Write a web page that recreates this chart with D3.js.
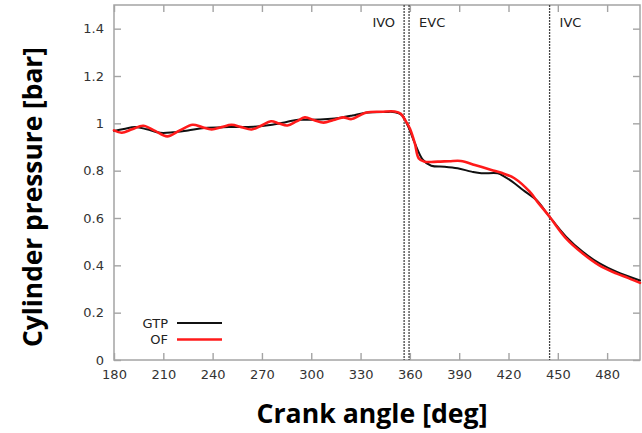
<!DOCTYPE html>
<html>
<head>
<meta charset="utf-8">
<script src="https://cdn.jsdelivr.net/npm/d3@7"></script>
<style>
  html, body { margin: 0; padding: 0; background: #fff; }
  svg { display: block; }
</style>
</head>
<body>
<svg id="chart" width="642" height="433"></svg>
<script>
// Crank angle [deg] and cylinder pressure [bar] for each model
const gtpAngle = [180, 186, 193, 200, 208, 216, 225, 235, 250, 265, 275, 285, 292, 300, 310, 318, 325, 333, 345, 351, 355, 359, 363, 368, 373, 381, 389, 397.5, 403.5, 413.5, 417.5, 423.8, 428.8, 437, 445, 455, 465, 475.4, 485.6, 500];
const gtpPressure = [0.968, 0.976, 0.984, 0.975, 0.960, 0.962, 0.970, 0.980, 0.984, 0.986, 0.993, 1.006, 1.015, 1.015, 1.018, 1.024, 1.033, 1.045, 1.048, 1.047, 1.035, 0.986, 0.916, 0.845, 0.821, 0.817, 0.810, 0.796, 0.789, 0.789, 0.775, 0.746, 0.718, 0.676, 0.605, 0.521, 0.458, 0.408, 0.373, 0.336];

const ofAngle = [180, 184.7, 191, 197.8, 205, 212.4, 220, 227.8, 233.5, 239.4, 245.5, 251.5, 257.5, 263.7, 269.5, 275.5, 280.5, 285.5, 291, 296.1, 301.5, 307.5, 313.5, 319.4, 324.5, 329, 333.6, 342.7, 350.8, 354.5, 357, 360, 363, 365.4, 369, 377, 384, 391, 399.5, 409.6, 415.7, 423.8, 432.9, 438, 445, 455, 465, 475, 485.5, 493, 500];
const ofPressure = [0.970, 0.960, 0.975, 0.990, 0.968, 0.945, 0.970, 0.994, 0.984, 0.974, 0.984, 0.994, 0.984, 0.974, 0.990, 1.009, 0.999, 0.991, 1.008, 1.025, 1.014, 1.003, 1.014, 1.025, 1.018, 1.032, 1.046, 1.049, 1.050, 1.040, 1.015, 0.978, 0.916, 0.852, 0.838, 0.838, 0.840, 0.841, 0.824, 0.803, 0.791, 0.767, 0.711, 0.665, 0.605, 0.514, 0.451, 0.401, 0.366, 0.346, 0.326];

const seriesNames = ["GTP", "OF"];
const seriesColors = ["#111111", "#ff1a1a"];

// Valve timing events
const eventNames = ["IVO", "EVC", "IVC"];
const eventAngles = [356.5, 359.5, 445];

// Axis ticks
const xTicks = [180, 210, 240, 270, 300, 330, 360, 390, 420, 450, 480];
const yTicks = [0, 0.2, 0.4, 0.6, 0.8, 1, 1.2, 1.4];
const yTickLabels = ["0", "0.2", "0.4", "0.6", "0.8", "1", "1.2", "1.4"];

const xTitle = "Crank angle [deg]";
const yTitle = "Cylinder pressure [bar]";

const svg = d3.select("#chart");
const frame = { left: 114, right: 640, top: 5, bottom: 360 };

const x = d3.scaleLinear().domain([180, 500]).range([frame.left, frame.right]);
const y = d3.scaleLinear().domain([0, 1.5]).range([frame.bottom, frame.top]);

const axisGray = "#a4a4a4";
const tickFont = "'DejaVu Sans', sans-serif";

// Axes with inward ticks on all four sides
const gx = svg.append("g")
  .attr("transform", `translate(0,${frame.bottom})`)
  .call(d3.axisBottom(x).tickValues(xTicks).tickFormat(d3.format("d"))
    .tickSizeInner(-7).tickSizeOuter(0).tickPadding(10));
const gxTop = svg.append("g")
  .attr("transform", `translate(0,${frame.top})`)
  .call(d3.axisTop(x).tickValues(xTicks).tickFormat("")
    .tickSizeInner(-7).tickSizeOuter(0));
const gy = svg.append("g")
  .attr("transform", `translate(${frame.left},0)`)
  .call(d3.axisLeft(y).tickValues(yTicks).tickFormat((d, i) => yTickLabels[i])
    .tickSizeInner(-7).tickSizeOuter(0).tickPadding(10));
const gyRight = svg.append("g")
  .attr("transform", `translate(${frame.right},0)`)
  .call(d3.axisRight(y).tickValues(yTicks).tickFormat("")
    .tickSizeInner(-7).tickSizeOuter(0));

[gx, gxTop, gy, gyRight].forEach(g => {
  g.select(".domain").remove();
  g.selectAll(".tick line").attr("stroke", axisGray).attr("stroke-width", 1.4);
  g.selectAll(".tick text")
    .attr("fill", "#333")
    .style("font-family", tickFont)
    .style("font-size", "13px");
});

// Plot frame
svg.append("rect")
  .attr("x", frame.left).attr("y", frame.top)
  .attr("width", frame.right - frame.left).attr("height", frame.bottom - frame.top)
  .attr("fill", "none").attr("stroke", axisGray).attr("stroke-width", 1.5);

// Valve event markers
const events = eventNames.map((name, i) => ({ name, angle: eventAngles[i] }));
svg.append("g").selectAll("line").data(events).join("line")
  .attr("x1", d => x(d.angle)).attr("x2", d => x(d.angle))
  .attr("y1", frame.top).attr("y2", frame.bottom)
  .attr("stroke", "#444").attr("stroke-width", 1.3)
  .attr("stroke-dasharray", "2,1");
svg.append("g").selectAll("text").data(events).join("text")
  .attr("x", d => x(d.angle) + (d.name === "IVO" ? -9 : 10))
  .attr("y", 27)
  .attr("text-anchor", d => d.name === "IVO" ? "end" : "start")
  .attr("fill", "#222")
  .style("font-family", tickFont)
  .style("font-size", "13px")
  .text(d => d.name);

// Pressure traces
const series = [
  { name: seriesNames[0], color: seriesColors[0], width: 2, pts: gtpAngle.map((a, i) => [a, gtpPressure[i]]) },
  { name: seriesNames[1], color: seriesColors[1], width: 2.6, pts: ofAngle.map((a, i) => [a, ofPressure[i]]) }
];
const line = d3.line()
  .x(d => x(d[0])).y(d => y(d[1]))
  .curve(d3.curveCatmullRom.alpha(0.5));

const plot = svg.append("g");
plot.selectAll("path").data(series).join("path")
  .attr("d", d => line(d.pts))
  .attr("fill", "none")
  .attr("stroke", d => d.color)
  .attr("stroke-width", d => d.width)
  .attr("stroke-linejoin", "round")
  .attr("stroke-linecap", "round");

// Legend
const legend = svg.append("g");
series.forEach((s, i) => {
  const ly = 323 + i * 16.5;
  legend.append("text")
    .attr("x", 168).attr("y", ly).attr("dy", "0.35em")
    .attr("text-anchor", "end")
    .attr("fill", "#222")
    .style("font-family", tickFont).style("font-size", "13px")
    .text(s.name);
  legend.append("line")
    .attr("x1", 177).attr("x2", 222).attr("y1", ly).attr("y2", ly)
    .attr("stroke", s.color).attr("stroke-width", s.width);
});

// Axis titles, sized so each spans its intended length
const titleFont = "'Open Sans', Lato, sans-serif";
function fitTitle(sel, targetWidth) {
  const base = 24;
  sel.style("font-size", base + "px");
  const w = sel.node().getComputedTextLength();
  sel.style("font-size", (base * targetWidth / w).toFixed(2) + "px");
}
const xt = svg.append("text")
  .attr("x", 372).attr("y", 423)
  .attr("text-anchor", "middle")
  .attr("fill", "#000")
  .style("font-family", titleFont).style("font-weight", "bold")
  .text(xTitle);
fitTitle(xt, 231);
const yt = svg.append("text")
  .attr("transform", "translate(42,197) rotate(-90)")
  .attr("text-anchor", "middle")
  .attr("fill", "#000")
  .style("font-family", titleFont).style("font-weight", "bold")
  .text(yTitle);
fitTitle(yt, 300);
</script>
</body>
</html>
